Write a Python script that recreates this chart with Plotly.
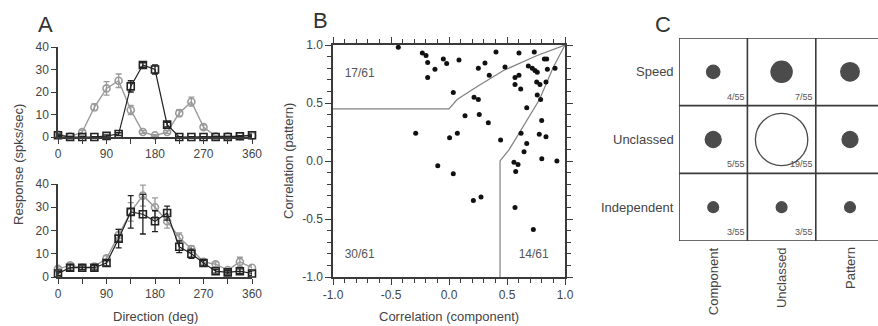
import plotly.graph_objects as go

W, H = 878, 326

# ---------------- Panel A data ----------------
directions = [0, 22.5, 45, 67.5, 90, 112.5, 135, 157.5, 180, 202.5, 225, 247.5, 270, 292.5, 315, 337.5, 360]
top_circle = [1.0, 0.2, 2.2, 13.2, 21.6, 25.0, 12.0, 2.2, 0.7, 2.2, 10.6, 15.7, 4.4, 0.3, 0.3, 0.3, 0.5]
top_circle_err = [0.5, 0.3, 0.8, 1.5, 3.0, 3.0, 2.0, 0.6, 0.4, 0.6, 1.5, 2.0, 1.0, 0.3, 0.3, 0.3, 0.3]
top_square = [0.8, 0.0, 0.0, 0.0, 0.5, 1.3, 22.5, 32.0, 30.0, 5.5, 0.0, 0.0, 0.0, 0.0, 0.0, 0.3, 0.8]
top_square_err = [0.5, 0.2, 0.2, 0.2, 0.4, 0.6, 2.5, 1.0, 2.0, 1.0, 0.2, 0.2, 0.2, 0.2, 0.2, 0.3, 0.5]

bot_circle = [3.5, 5.0, 4.0, 4.5, 8.0, 18.0, 28.0, 35.0, 30.0, 24.0, 17.0, 12.0, 6.5, 5.5, 3.0, 6.5, 4.0]
bot_circle_err = [1.0, 1.0, 0.8, 0.8, 1.2, 2.5, 4.0, 4.5, 4.0, 3.0, 2.0, 1.5, 1.0, 1.0, 0.8, 2.0, 1.0]
bot_square = [1.5, 4.0, 4.0, 4.0, 6.0, 16.5, 28.0, 27.0, 24.0, 27.5, 13.0, 10.0, 6.0, 2.5, 2.0, 2.5, 1.5]
bot_square_err = [0.8, 1.2, 0.8, 1.0, 1.2, 4.0, 7.0, 8.5, 4.5, 3.0, 2.5, 2.0, 1.2, 0.8, 0.8, 1.0, 0.8]

# ---------------- Panel B data ----------------
corr_component = [-0.437, -0.23, -0.198, -0.184, -0.121, -0.184, -0.049, -0.02, -0.287, 0.005,
                  -0.097, 0.086, 0.405, 0.603, 0.735, 0.822, 0.842, 0.31, 0.253, 0.483,
                  0.347, 0.684, 0.718, 0.741, 0.761, 0.848, 0.914, 0.603, 0.569, 0.569,
                  0.618, 0.756, 0.784, 0.836, 0.761, 0.79, 0.037, 0.216, 0.253, 0.67,
                  0.138, 0.261, 0.339, 0.799, 0.072, 0.445, 0.621, 0.778, 0.836, 0.67,
                  0.647, 0.8, 0.93, 0.56, 0.595, 0.575, 0.037, 0.21, 0.276, 0.569, 0.727]
corr_pattern = [0.98, 0.93, 0.91, 0.85, 0.79, 0.72, 0.88, 0.84, 0.24, 0.20,
                -0.04, 0.87, 0.94, 0.93, 0.94, 0.88, 0.88, 0.845, 0.80, 0.81,
                0.74, 0.82, 0.80, 0.78, 0.765, 0.79, 0.80, 0.74, 0.72, 0.66,
                0.62, 0.68, 0.66, 0.68, 0.57, 0.53, 0.59, 0.55, 0.53, 0.46,
                0.39, 0.40, 0.33, 0.35, 0.24, 0.18, 0.24, 0.23, 0.21, 0.15,
                0.08, 0.02, 0.00, -0.01, -0.03, -0.09, -0.11, -0.34, -0.31, -0.40, -0.59]

pattern_boundary_x = [-1.0, 0.0, 0.07, 0.24, 0.47, 0.76, 1.0]
pattern_boundary_y = [0.45, 0.45, 0.53, 0.64, 0.78, 0.91, 1.0]
component_boundary_x = [0.44, 0.44, 0.52, 0.61, 0.78, 0.90, 1.0]
component_boundary_y = [-1.0, 0.0, 0.10, 0.25, 0.53, 0.81, 1.0]

region_labels = ["17/61", "30/61", "14/61"]
region_label_x = [-0.77, -0.77, 0.73]
region_label_y = [0.75, -0.81, -0.81]

# ---------------- Panel C data ----------------
rows_c = ["Speed", "Unclassed", "Independent"]
cols_c = ["Component", "Unclassed", "Pattern"]
counts_c = [[4, 7, 6],
            [5, 19, 5],
            [3, 3, 3]]
total_c = 55

FONT = "Liberation Sans, Arial, sans-serif"
TXT = "#444444"
LINE = "#3a3a3a"
GREY = "#9a9a9a"
DARK = "#222222"

fig = go.Figure()


def px_x(p):
    return p / W


def px_y(p):
    return 1 - p / H


def add_tuning(xa, ya, circ, circ_err, sq, sq_err):
    fig.add_trace(go.Scatter(
        x=directions, y=circ, mode="lines+markers", xaxis=xa, yaxis=ya,
        line=dict(color=GREY, width=1.4),
        marker=dict(symbol="circle-open", size=7, color=GREY, line=dict(width=1.6)),
        error_y=dict(type="data", array=circ_err, color=GREY, thickness=1.3, width=3),
        cliponaxis=False, showlegend=False, hoverinfo="skip"))
    fig.add_trace(go.Scatter(
        x=directions, y=sq, mode="lines+markers", xaxis=xa, yaxis=ya,
        line=dict(color=DARK, width=1.2),
        marker=dict(symbol="square-open", size=7, color=DARK, line=dict(width=1.6)),
        error_y=dict(type="data", array=sq_err, color=DARK, thickness=1.3, width=3),
        cliponaxis=False, showlegend=False, hoverinfo="skip"))


add_tuning("x", "y", top_circle, top_circle_err, top_square, top_square_err)
add_tuning("x4", "y4", bot_circle, bot_circle_err, bot_square, bot_square_err)

# Panel B
fig.add_trace(go.Scatter(x=pattern_boundary_x, y=pattern_boundary_y, mode="lines",
                         xaxis="x2", yaxis="y2", line=dict(color="#808080", width=1.2),
                         showlegend=False, hoverinfo="skip"))
fig.add_trace(go.Scatter(x=component_boundary_x, y=component_boundary_y, mode="lines",
                         xaxis="x2", yaxis="y2", line=dict(color="#808080", width=1.2),
                         showlegend=False, hoverinfo="skip"))
fig.add_trace(go.Scatter(x=corr_component, y=corr_pattern, mode="markers",
                         xaxis="x2", yaxis="y2", marker=dict(color="#111111", size=5),
                         cliponaxis=False, showlegend=False, hoverinfo="skip"))
fig.add_trace(go.Scatter(x=region_label_x, y=region_label_y, mode="text", text=region_labels,
                         xaxis="x2", yaxis="y2", textfont=dict(family=FONT, size=12, color="#555555"),
                         showlegend=False, hoverinfo="skip"))
# invisible trace to activate the top/right tick axes of panel B
fig.add_trace(go.Scatter(x=[None], y=[None], xaxis="x5", yaxis="y5", mode="markers",
                         showlegend=False, hoverinfo="skip"))

# Panel C
biggest = max(max(rr) for rr in counts_c)
cx, cy, cs, cfill, ctext, ctx, cty = [], [], [], [], [], [], []
for i, r in enumerate(rows_c):
    for j, c in enumerate(cols_c):
        n = counts_c[i][j]
        cx.append(j + 0.5)
        cy.append(i + 0.5)
        cs.append(2.6 * n + 3)
        cfill.append("white" if n == biggest else "#000000")
        ctext.append(f"{n}/{total_c}")
        ctx.append(j + 0.99)
        cty.append(i + 0.97)

fig.add_trace(go.Scatter(x=cx, y=cy, mode="markers", xaxis="x3", yaxis="y3",
                         marker=dict(size=cs, color=cfill, line=dict(color="#000000", width=1.3)),
                         cliponaxis=False, showlegend=False, hoverinfo="skip"))
for t, x, y in zip(ctext, ctx, cty):
    fig.add_annotation(x=x, y=y, xref="x3", yref="y3", text=t, showarrow=False,
                       xanchor="right", yanchor="bottom",
                       font=dict(family=FONT, size=9, color="#555555"))

for k in range(4):
    fig.add_shape(type="line", xref="x3", yref="y3", x0=k, x1=k, y0=0, y1=3,
                  line=dict(color=LINE, width=1.6))
    fig.add_shape(type="line", xref="x3", yref="y3", x0=0, x1=3, y0=k, y1=k,
                  line=dict(color=LINE, width=1.6))

for i, r in enumerate(rows_c):
    fig.add_annotation(x=px_x(676), y=i + 0.5, xref="paper", yref="y3", text=r, showarrow=False,
                       xanchor="right", yanchor="middle", font=dict(family=FONT, size=13, color=TXT))
for j, c in enumerate(cols_c):
    fig.add_annotation(x=j + 0.5, y=px_y(245), xref="x3", yref="paper", text=c, showarrow=False,
                       textangle=-90, xanchor="center", yanchor="top",
                       font=dict(family=FONT, size=13, color=TXT))

tickfont = dict(family=FONT, size=12, color=TXT)
axA_x = dict(range=[0, 360], tickvals=[0, 45, 90, 135, 180, 225, 270, 315, 360],
             ticktext=["0", "", "90", "", "180", "", "270", "", "360"],
             ticks="outside", ticklen=5, tickwidth=1.3, tickcolor=LINE,
             showline=True, linecolor=LINE, linewidth=1.5, showgrid=False, zeroline=False,
             tickfont=tickfont, fixedrange=True, automargin=False)
axA_y = dict(range=[0, 40], tickvals=[0, 10, 20, 30, 40], ticks="outside", ticklen=5, tickwidth=1.3,
             tickcolor=LINE, showline=True, linecolor=LINE, linewidth=1.5, showgrid=False,
             zeroline=False, tickfont=tickfont, fixedrange=True, automargin=False)
axB = dict(range=[-1, 1], tickvals=[-1, -0.5, 0, 0.5, 1], ticktext=["-1.0", "-0.5", "0.0", "0.5", "1.0"],
           ticks="outside", ticklen=6, tickwidth=1.3, tickcolor=LINE,
           minor=dict(dtick=0.1, tick0=0, ticks="outside", ticklen=4, tickwidth=1.1, tickcolor=LINE),
           showline=True, linecolor=LINE, linewidth=1.5, showgrid=False, zeroline=False,
           tickfont=tickfont, fixedrange=True, automargin=False)

fig.update_layout(
    template="none",
    width=W, height=H, margin=dict(l=0, r=0, t=0, b=0, pad=0), autosize=False,
    paper_bgcolor="white", plot_bgcolor="rgba(0,0,0,0)",
    font=dict(family=FONT, color=TXT),
    xaxis=dict(domain=[px_x(58), px_x(252)], anchor="y", **axA_x),
    yaxis=dict(domain=[px_y(137), px_y(47)], anchor="x", **axA_y),
    xaxis4=dict(domain=[px_x(58), px_x(252)], anchor="y4", **axA_x),
    yaxis4=dict(domain=[px_y(277), px_y(184)], anchor="x4", **axA_y),
    xaxis2=dict(domain=[px_x(333), px_x(565)], anchor="y2", **axB),
    yaxis2=dict(domain=[px_y(277), px_y(45)], anchor="x2", **axB),
    xaxis5=dict(overlaying="x2", side="top", anchor="y5", **{**axB, "showticklabels": False}),
    yaxis5=dict(overlaying="y2", side="right", anchor="x5", **{**axB, "showticklabels": False}),
    xaxis3=dict(domain=[px_x(679), 1.0], anchor="y3", range=[0, (W - 679) / 68.4],
                visible=False, fixedrange=True, automargin=False),
    yaxis3=dict(domain=[px_y(241), px_y(38)], anchor="x3", range=[3, 0],
                visible=False, fixedrange=True, automargin=False),
)

# Titles / labels
labels = [
    ("A", 45, 24, 22, 0), ("B", 320, 21, 22, 0), ("C", 663, 24, 22, 0),
    ("Response (spks/sec)", 18, 165, 13, -90), ("Direction (deg)", 155, 316, 13, 0),
    ("Correlation (pattern)", 288, 161, 13, -90), ("Correlation (component)", 449, 316, 13, 0),
]
for t, x, y, s, a in labels:
    fig.add_annotation(x=px_x(x), y=px_y(y), xref="paper", yref="paper", text=t, showarrow=False,
                       textangle=a, xanchor="center", yanchor="middle",
                       font=dict(family=FONT, size=s, color="#333333" if s > 15 else TXT))

fig.write_html("out.html", config={"displayModeBar": False},
               post_script="document.body.style.margin='0';document.body.style.padding='0';")
